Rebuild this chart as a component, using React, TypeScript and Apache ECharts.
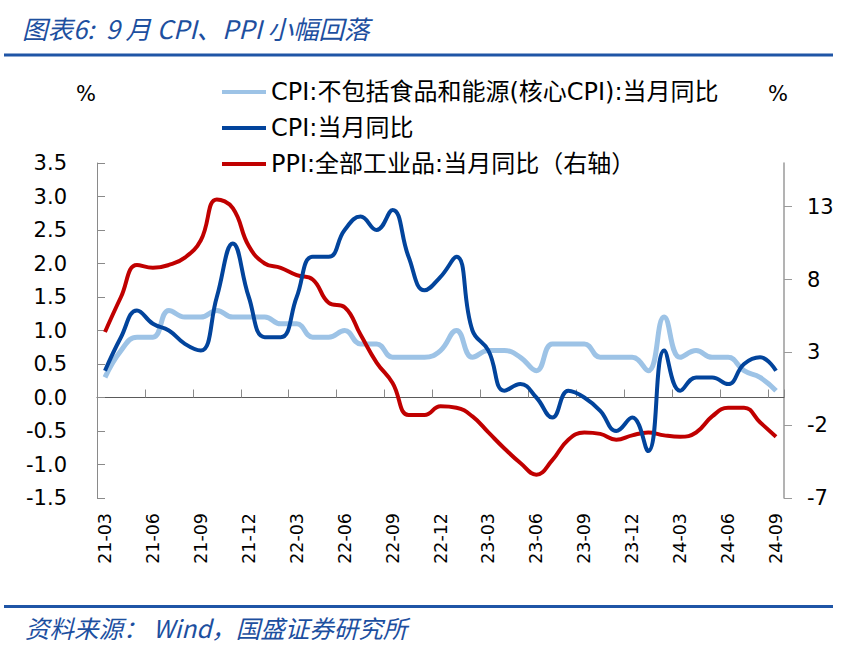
import React, { useEffect, useRef } from "react";
import * as echarts from "echarts";

const categories = [
  "21-03", "21-04", "21-05", "21-06", "21-07", "21-08", "21-09", "21-10", "21-11", "21-12",
  "22-01", "22-02", "22-03", "22-04", "22-05", "22-06", "22-07", "22-08", "22-09", "22-10", "22-11", "22-12",
  "23-01", "23-02", "23-03", "23-04", "23-05", "23-06", "23-07", "23-08", "23-09", "23-10", "23-11", "23-12",
  "24-01", "24-02", "24-03", "24-04", "24-05", "24-06", "24-07", "24-08", "24-09",
];

const coreCpi = [
  0.3, 0.7, 0.9, 0.9, 1.3, 1.2, 1.2, 1.3, 1.2, 1.2,
  1.2, 1.1, 1.1, 0.9, 0.9, 1.0, 0.8, 0.8, 0.6, 0.6, 0.6, 0.7,
  1.0, 0.6, 0.7, 0.7, 0.6, 0.4, 0.8, 0.8, 0.8, 0.6, 0.6, 0.6,
  0.4, 1.2, 0.6, 0.7, 0.6, 0.6, 0.4, 0.3, 0.1,
];

const cpi = [
  0.4, 0.9, 1.3, 1.1, 1.0, 0.8, 0.7, 1.5, 2.3, 1.5,
  0.9, 0.9, 1.5, 2.1, 2.1, 2.5, 2.7, 2.5, 2.8, 2.1, 1.6, 1.8,
  2.1, 1.0, 0.7, 0.1, 0.2, 0.0, -0.3, 0.1, 0.0, -0.2, -0.5, -0.3,
  -0.8, 0.7, 0.1, 0.3, 0.3, 0.2, 0.5, 0.6, 0.4,
];

const ppi = [
  4.4, 6.8, 9.0, 8.8, 9.0, 9.5, 10.7, 13.5, 12.9, 10.3,
  9.1, 8.8, 8.3, 8.0, 6.4, 6.1, 4.2, 2.3, 0.9, -1.3, -1.3, -0.7,
  -0.8, -1.4, -2.5, -3.6, -4.6, -5.4, -4.4, -3.0, -2.5, -2.6, -3.0, -2.7,
  -2.5, -2.7, -2.8, -2.5, -1.4, -0.8, -0.8, -1.8, -2.8,
];

const rightTicks = [-7, -2, 3, 8, 13];

const seriesNames = [
  "CPI:不包括食品和能源(核心CPI):当月同比",
  "CPI:当月同比",
  "PPI:全部工业品:当月同比（右轴）",
];

const titleText = "图表6:  9 月 CPI、PPI 小幅回落";
const sourceText = "资料来源： Wind，国盛证券研究所";

const FONT = '"DejaVu Sans", "Noto Sans CJK SC", sans-serif';
const CJK = '"Noto Sans CJK SC", "DejaVu Sans", sans-serif';
const BLUE_TXT = "#1d4f9f";

export default function App() {
  const ref = useRef<HTMLDivElement>(null);

  useEffect(() => {
    if (!ref.current) return;
    const chart = echarts.init(ref.current, undefined, { renderer: "svg" });
    const option: any = {
      animation: false,
      backgroundColor: "#ffffff",
      textStyle: { fontFamily: FONT },
      grid: {
        left: 97,
        right: 83,
        top: 163,
        bottom: 163,
        containLabel: false,
        outerBoundsMode: "none",
      },
      legend: {
        orient: "vertical",
        left: 217,
        top: 75,
        itemWidth: 44,
        itemHeight: 4,
        itemGap: 12,
        icon: "rect",
        textStyle: { fontSize: 24, color: "#000", fontFamily: FONT, lineHeight: 24 },
        data: seriesNames,
      },
      xAxis: [
        {
          type: "category",
          data: categories,
          position: "bottom",
          boundaryGap: true,
          axisLine: { show: false, onZero: false },
          axisTick: { show: false },
          axisLabel: {
            interval: 2,
            rotate: 90,
            margin: 15,
            fontSize: 17.5,
            color: "#000",
            fontFamily: FONT,
          },
          splitLine: { show: false },
        },
        {
          type: "category",
          data: categories,
          position: "top",
          boundaryGap: true,
          axisLine: { show: true, onZero: true, lineStyle: { color: "#5a5a5a", width: 1 } },
          axisTick: { show: true, inside: false, interval: 2, length: 8, lineStyle: { color: "#8a8a8a" } },
          axisLabel: { show: false },
          splitLine: { show: false },
        },
      ],
      yAxis: [
        {
          type: "value",
          position: "left",
          min: -1.5,
          max: 3.5,
          interval: 0.5,
          axisLine: { show: true, onZero: false, lineStyle: { color: "#8a8a8a", width: 1 } },
          axisTick: { show: true, inside: true, length: 8, lineStyle: { color: "#8a8a8a" } },
          axisLabel: {
            margin: 30,
            fontSize: 21,
            color: "#000",
            fontFamily: FONT,
            formatter: (v: number) => v.toFixed(1),
          },
          splitLine: { show: false },
        },
        {
          type: "value",
          position: "right",
          min: -7,
          max: 16,
          interval: 5,
          axisLine: { show: true, onZero: false, lineStyle: { color: "#9a9a9a", width: 1.5 } },
          axisTick: { show: true, inside: false, length: 8, customValues: rightTicks, lineStyle: { color: "#9a9a9a" } },
          axisLabel: {
            margin: 23,
            fontSize: 21,
            color: "#000",
            fontFamily: FONT,
            customValues: rightTicks,
          },
          splitLine: { show: false },
        },
      ],
      series: [
        {
          name: seriesNames[0],
          type: "line",
          data: coreCpi,
          xAxisIndex: 0,
          yAxisIndex: 0,
          smooth: 0.45,
          symbol: "none",
          color: "#9dc3e6",
          lineStyle: { color: "#9dc3e6", width: 5 },
          z: 2,
        },
        {
          name: seriesNames[1],
          type: "line",
          data: cpi,
          xAxisIndex: 0,
          yAxisIndex: 0,
          smooth: 0.45,
          symbol: "none",
          color: "#02449c",
          lineStyle: { color: "#02449c", width: 4 },
          z: 4,
        },
        {
          name: seriesNames[2],
          type: "line",
          data: ppi,
          xAxisIndex: 0,
          yAxisIndex: 1,
          smooth: 0.45,
          symbol: "none",
          color: "#c00000",
          lineStyle: { color: "#c00000", width: 4 },
          z: 3,
        },
      ],
      graphic: [
        {
          type: "text",
          x: 22,
          y: 27,
          style: {
            text: titleText,
            fontSize: 25.5,
            fontStyle: "italic",
            fontFamily: CJK,
            fill: BLUE_TXT,
            verticalAlign: "middle",
            align: "left",
          },
        },
        {
          type: "line",
          shape: { x1: 4, y1: 55, x2: 833, y2: 55 },
          style: { stroke: "#1f55a6", lineWidth: 3 },
        },
        {
          type: "text",
          x: 76,
          y: 94,
          style: { text: "%", fontSize: 21, fontFamily: FONT, fill: "#000", verticalAlign: "middle" },
        },
        {
          type: "text",
          x: 768,
          y: 94,
          style: { text: "%", fontSize: 21, fontFamily: FONT, fill: "#000", verticalAlign: "middle" },
        },
        {
          type: "line",
          shape: { x1: 4, y1: 606.5, x2: 833, y2: 606.5 },
          style: { stroke: "#1f55a6", lineWidth: 3 },
        },
        {
          type: "text",
          x: 25,
          y: 627,
          style: {
            text: sourceText,
            fontSize: 24.5,
            fontStyle: "italic",
            fontFamily: CJK,
            fill: BLUE_TXT,
            verticalAlign: "middle",
            align: "left",
          },
        },
      ],
    };
    chart.setOption(option);
    return () => {
      chart.dispose();
    };
  }, []);

  return (
    <div
      ref={ref}
      style={{ position: "fixed", left: 0, top: 0, width: 867, height: 661, background: "#fff" }}
    />
  );
}
